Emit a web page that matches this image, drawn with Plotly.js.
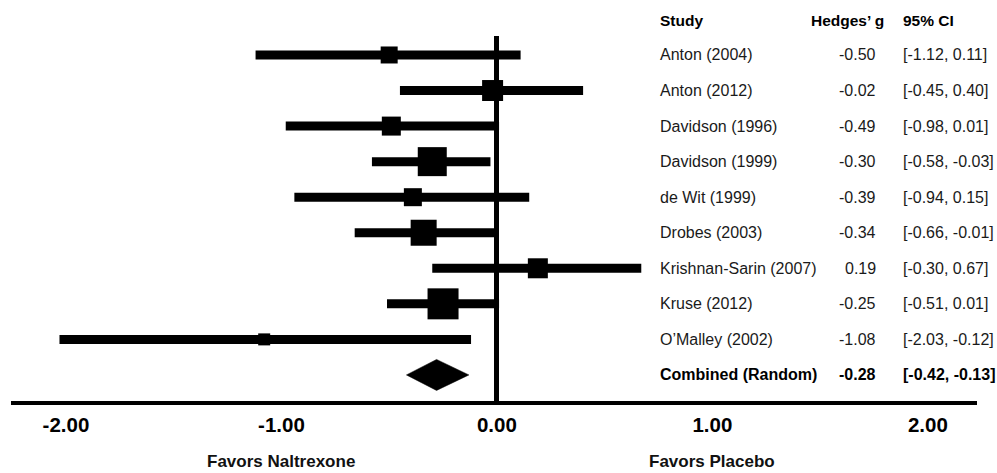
<!DOCTYPE html>
<html>
<head>
<meta charset="utf-8">
<script src="https://cdn.plot.ly/plotly-3.0.1.min.js"></script>
<style>html,body{margin:0;padding:0;background:#fff;}#chart{width:997px;height:473px;}</style>
</head>
<body>
<div id="chart"></div>
<script>
// ---- data ----
const studies = ["Anton (2004)", "Anton (2012)", "Davidson (1996)", "Davidson (1999)", "de Wit (1999)", "Drobes (2003)", "Krishnan-Sarin (2007)", "Kruse (2012)", "O\u2019Malley (2002)"];
const hedgesG = [-0.50, -0.02, -0.49, -0.30, -0.39, -0.34, 0.19, -0.25, -1.08];
const ciLow   = [-1.12, -0.45, -0.98, -0.58, -0.94, -0.66, -0.30, -0.51, -2.03];
const ciHigh  = [0.11, 0.40, 0.01, -0.03, 0.15, -0.01, 0.67, 0.01, -0.12];
const studyWeightPx = [17, 21, 19, 29, 18, 26, 20, 31, 12];
const combinedLabel = "Combined (Random)";
const combinedG = -0.28;
const combinedLow = -0.42;
const combinedHigh = -0.13;
const tickValues = [-2, -1, 0, 1, 2];
const tickLabels = ["-2.00", "-1.00", "0.00", "1.00", "2.00"];
const headers = ["Study", "Hedges\u2019 g", "95% CI"];
const sideLabels = ["Favors Naltrexone", "Favors Placebo"];

// ---- build ----
const FONT = "'Liberation Sans', Arial, Helvetica, sans-serif";
const rows = studies.map((s, i) => i + 1);
const combinedRow = studies.length + 1;

const ciX = [], ciY = [];
studies.forEach((s, i) => {
  ciX.push(ciLow[i], ciHigh[i], null);
  ciY.push(rows[i], rows[i], null);
});

const diamondHalf = 0.436;
const traces = [
  {type: 'scatter', mode: 'lines', x: ciX, y: ciY,
   line: {color: '#000', width: 9}, hoverinfo: 'skip', showlegend: false},
  {type: 'scatter', mode: 'markers', x: hedgesG, y: rows,
   marker: {symbol: 'square', color: '#000', opacity: 1, size: studyWeightPx, line: {width: 0}},
   hoverinfo: 'skip', showlegend: false},
  {type: 'scatter', mode: 'lines',
   x: [combinedLow, combinedG, combinedHigh, combinedG, combinedLow],
   y: [combinedRow, combinedRow - diamondHalf, combinedRow, combinedRow + diamondHalf, combinedRow],
   fill: 'toself', fillcolor: '#000', line: {color: '#000', width: 0.5},
   hoverinfo: 'skip', showlegend: false}
];

const colStudy = 0.6705, colG = 0.8965, colCI = 0.9225;
const ann = [];
function addText(text, x, y, anchor, bold, size, yref) {
  ann.push({text: text, xref: 'paper', yref: yref || 'y', x: x, y: y, xanchor: anchor, yanchor: 'middle',
    showarrow: false, borderpad: 0,
    font: {family: FONT, size: size, color: bold ? '#000' : '#1a1a1a', weight: bold ? 'bold' : 'normal'}});
}
const headerY = 1.0438;
addText(headers[0], colStudy, headerY, 'left', true, 15.5, 'paper');
addText(headers[1], colG + 0.008, headerY, 'right', true, 15.5, 'paper');
addText(headers[2], colCI, headerY, 'left', true, 15.5, 'paper');
studies.forEach((s, i) => {
  addText(s, colStudy, rows[i], 'left', false, 16);
  addText(hedgesG[i].toFixed(2), colG, rows[i], 'right', false, 16);
  addText('[' + ciLow[i].toFixed(2) + ', ' + ciHigh[i].toFixed(2) + ']', colCI, rows[i], 'left', false, 16);
});
addText(combinedLabel, colStudy, combinedRow, 'left', true, 16);
addText(combinedG.toFixed(2), colG, combinedRow, 'right', true, 16);
addText('[' + combinedLow.toFixed(2) + ', ' + combinedHigh.toFixed(2) + ']', colCI, combinedRow, 'left', true, 16);

ann.push({text: sideLabels[0], xref: 'x', yref: 'paper', x: -1, y: -0.167, xanchor: 'center', yanchor: 'middle',
  showarrow: false, font: {family: FONT, size: 17, color: '#111', weight: 'bold'}});
ann.push({text: sideLabels[1], xref: 'x', yref: 'paper', x: 1, y: -0.167, xanchor: 'center', yanchor: 'middle',
  showarrow: false, font: {family: FONT, size: 17, color: '#111', weight: 'bold'}});

const layout = {
  width: 997, height: 473,
  margin: {l: 11, r: 20, t: 36, b: 72, pad: 0},
  paper_bgcolor: '#fff', plot_bgcolor: '#fff',
  showlegend: false,
  xaxis: {range: [-2.255, 2.228], showgrid: false, zeroline: true, zerolinecolor: '#000', zerolinewidth: 5,
    showline: true, linecolor: '#000', linewidth: 4, ticks: '', tickvals: tickValues, ticktext: tickLabels,
    ticklabelstandoff: 2,
    tickfont: {family: FONT, size: 20.5, color: '#000', weight: 'bold'}, fixedrange: true},
  yaxis: {range: [10.733, 0.466], showgrid: false, zeroline: false, showline: false,
    showticklabels: false, ticks: '', fixedrange: true},
  annotations: ann
};

Plotly.newPlot('chart', traces, layout, {staticPlot: true, displayModeBar: false});
</script>
</body>
</html>
